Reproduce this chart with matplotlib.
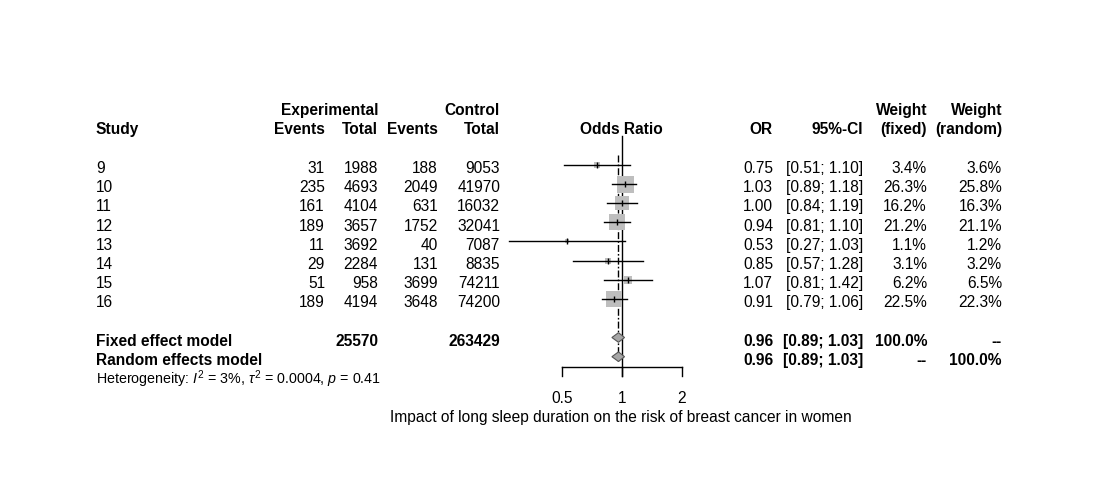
import numpy as np
import matplotlib
matplotlib.use("Agg")
import matplotlib.pyplot as plt
from matplotlib.patches import Polygon

plt.rcParams['font.family'] = ['Liberation Sans', 'DejaVu Sans']
plt.rcParams['mathtext.fontset'] = 'custom'
plt.rcParams['mathtext.rm'] = 'Liberation Sans'
plt.rcParams['mathtext.it'] = 'Liberation Sans:italic'

# ---------------- data ----------------
studies = ["9", "10", "11", "12", "13", "14", "15", "16"]
exp_events = [31, 235, 161, 189, 11, 29, 51, 189]
exp_total = [1988, 4693, 4104, 3657, 3692, 2284, 958, 4194]
ctl_events = [188, 2049, 631, 1752, 40, 131, 3699, 3648]
ctl_total = [9053, 41970, 16032, 32041, 7087, 8835, 74211, 74200]
or_est = [0.75, 1.03, 1.00, 0.94, 0.53, 0.85, 1.07, 0.91]
or_lo = [0.51, 0.89, 0.84, 0.81, 0.27, 0.57, 0.81, 0.79]
or_hi = [1.10, 1.18, 1.19, 1.10, 1.03, 1.28, 1.42, 1.06]
w_fixed = [3.4, 26.3, 16.2, 21.2, 1.1, 3.1, 6.2, 22.5]
w_random = [3.6, 25.8, 16.3, 21.1, 1.2, 3.2, 6.5, 22.3]

fixed_est, fixed_lo, fixed_hi = 0.96, 0.89, 1.03
random_est, random_lo, random_hi = 0.96, 0.89, 1.03
exp_total_sum = 25570
ctl_total_sum = 263429
tick_vals = [0.5, 1, 2]
tick_labels = ["0.5", "1", "2"]
xlabel = "Impact of long sleep duration on the risk of breast cancer in women"

# ---------------- figure ----------------
W, H = 1099, 485
fig = plt.figure(figsize=(W / 100, H / 100), dpi=100)
fig.patch.set_facecolor('white')

tx = fig.add_axes([0, 0, 1, 1])
tx.set_xlim(0, W)
tx.set_ylim(H, 0)
tx.axis('off')

fa = fig.add_axes([502 / W, 0, 240 / W, 1])
fa.set_xscale('log', base=2)
fa.set_xlim(0.25, 4)
fa.set_ylim(H, 0)
fa.axis('off')

FS = 11.2
HFS = 10.3

def t(x, y, s, ha='right', bold=False, size=FS):
    tx.text(x, y, s, ha=ha, va='baseline', fontsize=size,
            fontweight='bold' if bold else 'normal', color='black')

# headers
t(378, 115, "Experimental", bold=True)
t(500, 115, "Control", bold=True)
t(927, 115, "Weight", bold=True)
t(1002, 115, "Weight", bold=True)
t(96, 134, "Study", ha='left', bold=True)
t(325, 134, "Events", bold=True)
t(378, 134, "Total", bold=True)
t(438, 134, "Events", bold=True)
t(500, 134, "Total", bold=True)
t(621, 134, "Odds Ratio", ha='center', bold=True)
t(773, 134, "OR", bold=True)
t(863, 134, "95%-CI", bold=True)
t(927, 134, "(fixed)", bold=True)
t(1002, 134, "(random)", bold=True)

row0, dy = 165.5, 19.2
ref_side = 17.0
for i in range(len(studies)):
    y = row0 + dy * i
    b = y + 7.6
    t(96, b, studies[i], ha='left')
    t(325, b, str(exp_events[i]))
    t(378, b, str(exp_total[i]))
    t(438, b, str(ctl_events[i]))
    t(500, b, str(ctl_total[i]))
    t(773, b, f"{or_est[i]:.2f}")
    t(863, b, f"[{or_lo[i]:.2f}; {or_hi[i]:.2f}]")
    t(927, b, f"{w_fixed[i]:.1f}%")
    t(1002, b, f"{w_random[i]:.1f}%")
    side = ref_side * np.sqrt(w_fixed[i] / 26.3)
    fa.plot([or_est[i]], [y], marker='s', markersize=side * 0.72,
            color='#bebebe', markeredgewidth=0, zorder=2)
    fa.plot([or_lo[i], or_hi[i]], [y, y], color='black', lw=1.0, zorder=3)
    fa.plot([or_est[i]], [y], marker='|', markersize=5.0,
            color='black', markeredgewidth=1.0, zorder=4)

# summary rows
yf, yr = 338.5, 357.7
t(96, yf + 7.6, "Fixed effect model", ha='left', bold=True)
t(378, yf + 7.6, str(exp_total_sum), bold=True)
t(500, yf + 7.6, str(ctl_total_sum), bold=True)
t(773, yf + 7.6, f"{fixed_est:.2f}", bold=True)
t(863, yf + 7.6, f"[{fixed_lo:.2f}; {fixed_hi:.2f}]", bold=True)
t(927, yf + 7.6, "100.0%", bold=True)
t(1002, yf + 7.6, "--", bold=True)

t(96, yr + 7.6, "Random effects model", ha='left', bold=True)
t(773, yr + 7.6, f"{random_est:.2f}", bold=True)
t(863, yr + 7.6, f"[{random_lo:.2f}; {random_hi:.2f}]", bold=True)
t(927, yr + 7.6, "--", bold=True)
t(1002, yr + 7.6, "100.0%", bold=True)

t(96, 384, r"Heterogeneity: $I^2$ = 3%, $\tau^2$ = 0.0004, $p$ = 0.41",
  ha='left', size=HFS)

for est, lo, hi, y in [(fixed_est, fixed_lo, fixed_hi, yf),
                       (random_est, random_lo, random_hi, yr)]:
    poly = Polygon([[lo, y], [est, y - 4.8], [hi, y], [est, y + 4.8]],
                   closed=True, facecolor='#a6a6a6', edgecolor='#555555',
                   lw=0.8, zorder=5)
    fa.add_patch(poly)

# reference lines
fa.plot([1, 1], [137, 377], color='black', lw=1.0, zorder=1)
fa.plot([fixed_est, fixed_est], [156, 362], color='black', lw=1.0,
        linestyle=(0, (5, 1.5, 1.2, 1.5)), zorder=1)

# axis
ax_y = 367.5
fa.plot([tick_vals[0], tick_vals[-1]], [ax_y, ax_y], color='black', lw=1.0)
for v, lab in zip(tick_vals, tick_labels):
    fa.plot([v, v], [ax_y, 377], color='black', lw=1.0)
    fa.text(v, 403, lab, ha='center', va='baseline', fontsize=FS)

t(621, 422, xlabel, ha='center')

fig.savefig("out.png", dpi=100, facecolor='white')
